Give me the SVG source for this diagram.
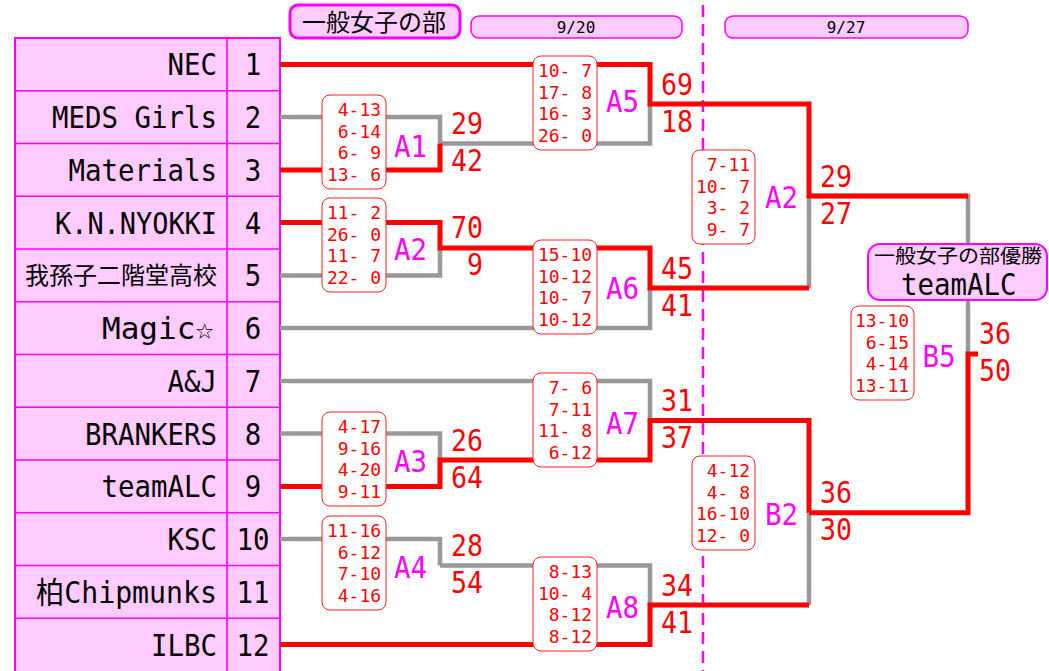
<svg xmlns="http://www.w3.org/2000/svg" width="1049" height="671" viewBox="0 0 1049 671">
<style>
.cell{fill:#FFCCFF;stroke:#FF00FF;stroke-width:2}
.rl{stroke:#FF00FF;stroke-width:1.6;fill:none}
.team{font-family:"DejaVu Sans Mono","Noto Sans CJK JP",monospace;font-size:30px;fill:#000}
.jp{font-family:"Noto Sans CJK JP",sans-serif;fill:#000}
.num{font-family:"DejaVu Sans Mono",monospace;font-size:30px;fill:#000}
.sc{font-family:"DejaVu Sans Mono",monospace;font-size:30px;fill:#FF0000}
.lb{font-family:"DejaVu Sans Mono",monospace;font-size:31px;fill:#FF00FF}
.bx{fill:#fff;stroke:#FF2020;stroke-width:1}
.gm{font-family:"DejaVu Sans Mono",monospace;font-size:18px;fill:#FF0000;white-space:pre}
.red{fill:none;stroke:#FF0000;stroke-width:5;stroke-linejoin:miter}
.gray{fill:none;stroke:#999999;stroke-width:4.5;stroke-linejoin:miter}
.hdr{fill:#FFCCFF;stroke:#FF00FF}
.date{font-family:"DejaVu Sans Mono",monospace;font-size:16px;fill:#000}
</style>

<!-- headers -->
<g id="title">
<rect class="hdr" x="290" y="5" width="170" height="33" rx="8" stroke-width="3"/>
<text class="jp" x="302" y="31" font-size="24">一般女子の部</text>
</g>
<g id="date1">
<rect class="hdr" x="471" y="16" width="211" height="22" rx="8" stroke-width="1.5"/>
<text class="date" x="576" y="33" text-anchor="middle">9/20</text>
</g>
<g id="date2">
<rect class="hdr" x="725" y="16" width="243" height="22" rx="8" stroke-width="1.5"/>
<text class="date" x="846" y="33" text-anchor="middle">9/27</text>
</g>
<line x1="703" y1="5" x2="703" y2="671" stroke="#FF00FF" stroke-width="2.5" stroke-dasharray="12 7"/>

<!-- table -->
<g id="table">
<rect class="cell" x="15" y="38" width="265" height="645"/>
<path class="rl" d="M227,38V683 M15,90.75H280 M15,143.5H280 M15,196.25H280 M15,249H280 M15,301.75H280 M15,354.5H280 M15,407.25H280 M15,460H280 M15,512.75H280 M15,565.5H280 M15,618.25H280"/>
</g>
<g id="team1"><text class="team" x="167.5" y="75.4" textLength="49.5" lengthAdjust="spacingAndGlyphs">NEC</text><text class="num" x="244.75" y="75.4" textLength="16.5" lengthAdjust="spacingAndGlyphs">1</text></g>
<g id="team2"><text class="team" x="52" y="128" textLength="165" lengthAdjust="spacingAndGlyphs">MEDS Girls</text><text class="num" x="244.75" y="128" textLength="16.5" lengthAdjust="spacingAndGlyphs">2</text></g>
<g id="team3"><text class="team" x="68.5" y="181" textLength="148.5" lengthAdjust="spacingAndGlyphs">Materials</text><text class="num" x="244.75" y="181" textLength="16.5" lengthAdjust="spacingAndGlyphs">3</text></g>
<g id="team4"><text class="team" x="55" y="233.6" textLength="162" lengthAdjust="spacingAndGlyphs">K.N.NYOKKI</text><text class="num" x="244.75" y="233.6" textLength="16.5" lengthAdjust="spacingAndGlyphs">4</text></g>
<g id="team5"><text class="jp" x="25" y="284" font-size="24" textLength="192" lengthAdjust="spacingAndGlyphs">我孫子二階堂高校</text><text class="num" x="244.75" y="286.4" textLength="16.5" lengthAdjust="spacingAndGlyphs">5</text></g>
<g id="team6"><text class="team" x="102" y="339" textLength="112" lengthAdjust="spacingAndGlyphs">Magic☆</text><text class="num" x="244.75" y="339" textLength="16.5" lengthAdjust="spacingAndGlyphs">6</text></g>
<g id="team7"><text class="team" x="167.5" y="392" textLength="49.5" lengthAdjust="spacingAndGlyphs">A&amp;J</text><text class="num" x="244.75" y="392" textLength="16.5" lengthAdjust="spacingAndGlyphs">7</text></g>
<g id="team8"><text class="team" x="85" y="444.6" textLength="132" lengthAdjust="spacingAndGlyphs">BRANKERS</text><text class="num" x="244.75" y="444.6" textLength="16.5" lengthAdjust="spacingAndGlyphs">8</text></g>
<g id="team9"><text class="team" x="101.5" y="497.4" textLength="115.5" lengthAdjust="spacingAndGlyphs">teamALC</text><text class="num" x="244.75" y="497.4" textLength="16.5" lengthAdjust="spacingAndGlyphs">9</text></g>
<g id="team10"><text class="team" x="167.5" y="550" textLength="49.5" lengthAdjust="spacingAndGlyphs">KSC</text><text class="num" x="236.5" y="550" textLength="33" lengthAdjust="spacingAndGlyphs">10</text></g>
<g id="team11"><text class="team" x="36" y="603" textLength="181" lengthAdjust="spacingAndGlyphs">柏Chipmunks</text><text class="num" x="236.5" y="603" textLength="33" lengthAdjust="spacingAndGlyphs">11</text></g>
<g id="team12"><text class="team" x="151" y="655.6" textLength="66" lengthAdjust="spacingAndGlyphs">ILBC</text><text class="num" x="236.5" y="655.6" textLength="33" lengthAdjust="spacingAndGlyphs">12</text></g>

<!-- connectors -->
<g id="connectors">
<path class="gray" d="M280,117H440V143.5 M440,143.5H650V104 M280,275.4H440V248 M280,328H650V288 M280,433.6H440V460 M280,381H650V420.5 M280,539H440V565.5 M440,565.5H650V605 M809,196V288 M809,512.8V605 M809,196H968V354"/>
<path class="red" d="M280,170H440V143.5 M280,64.4H650V104H809 M280,222.6H440V248H650V288H809 M650,104H809V196H968 M280,486.4H440V460H650V420.5H809V512.8 M280,644.6H650V605H809 M809,512.8H968V354H978"/>
</g>

<!-- matches -->
<g id="A1">
<rect class="bx" x="322" y="95" width="64" height="94" rx="8"/>
<text class="gm" x="327" y="116" textLength="54" lengthAdjust="spacingAndGlyphs"> 4-13</text>
<text class="gm" x="327" y="137.5" textLength="54" lengthAdjust="spacingAndGlyphs"> 6-14</text>
<text class="gm" x="327" y="159" textLength="54" lengthAdjust="spacingAndGlyphs"> 6- 9</text>
<text class="gm" x="327" y="180.5" textLength="54" lengthAdjust="spacingAndGlyphs">13- 6</text>
<text class="lb" x="394" y="157" textLength="33" lengthAdjust="spacingAndGlyphs">A1</text>
<text class="sc" x="451" y="133.5" textLength="32" lengthAdjust="spacingAndGlyphs">29</text>
<text class="sc" x="451" y="170.5" textLength="32" lengthAdjust="spacingAndGlyphs">42</text>
</g>
<g id="A2">
<rect class="bx" x="322" y="198" width="64" height="94" rx="8"/>
<text class="gm" x="327" y="219" textLength="54" lengthAdjust="spacingAndGlyphs">11- 2</text>
<text class="gm" x="327" y="240.5" textLength="54" lengthAdjust="spacingAndGlyphs">26- 0</text>
<text class="gm" x="327" y="262" textLength="54" lengthAdjust="spacingAndGlyphs">11- 7</text>
<text class="gm" x="327" y="283.5" textLength="54" lengthAdjust="spacingAndGlyphs">22- 0</text>
<text class="lb" x="394" y="260" textLength="33" lengthAdjust="spacingAndGlyphs">A2</text>
<text class="sc" x="451" y="238" textLength="32" lengthAdjust="spacingAndGlyphs">70</text>
<text class="sc" x="467" y="275" textLength="16" lengthAdjust="spacingAndGlyphs">9</text>
</g>
<g id="A3">
<rect class="bx" x="322" y="412" width="64" height="94" rx="8"/>
<text class="gm" x="327" y="433" textLength="54" lengthAdjust="spacingAndGlyphs"> 4-17</text>
<text class="gm" x="327" y="454.5" textLength="54" lengthAdjust="spacingAndGlyphs"> 9-16</text>
<text class="gm" x="327" y="476" textLength="54" lengthAdjust="spacingAndGlyphs"> 4-20</text>
<text class="gm" x="327" y="497.5" textLength="54" lengthAdjust="spacingAndGlyphs"> 9-11</text>
<text class="lb" x="394" y="472" textLength="33" lengthAdjust="spacingAndGlyphs">A3</text>
<text class="sc" x="451" y="450.5" textLength="32" lengthAdjust="spacingAndGlyphs">26</text>
<text class="sc" x="451" y="487.5" textLength="32" lengthAdjust="spacingAndGlyphs">64</text>
</g>
<g id="A4">
<rect class="bx" x="322" y="516" width="64" height="94" rx="8"/>
<text class="gm" x="327" y="537" textLength="54" lengthAdjust="spacingAndGlyphs">11-16</text>
<text class="gm" x="327" y="558.5" textLength="54" lengthAdjust="spacingAndGlyphs"> 6-12</text>
<text class="gm" x="327" y="580" textLength="54" lengthAdjust="spacingAndGlyphs"> 7-10</text>
<text class="gm" x="327" y="601.5" textLength="54" lengthAdjust="spacingAndGlyphs"> 4-16</text>
<text class="lb" x="394" y="578" textLength="33" lengthAdjust="spacingAndGlyphs">A4</text>
<text class="sc" x="451" y="556" textLength="32" lengthAdjust="spacingAndGlyphs">28</text>
<text class="sc" x="451" y="593" textLength="32" lengthAdjust="spacingAndGlyphs">54</text>
</g>
<g id="A5">
<rect class="bx" x="533" y="56" width="64" height="94" rx="8"/>
<text class="gm" x="538" y="77" textLength="54" lengthAdjust="spacingAndGlyphs">10- 7</text>
<text class="gm" x="538" y="98.5" textLength="54" lengthAdjust="spacingAndGlyphs">17- 8</text>
<text class="gm" x="538" y="120" textLength="54" lengthAdjust="spacingAndGlyphs">16- 3</text>
<text class="gm" x="538" y="141.5" textLength="54" lengthAdjust="spacingAndGlyphs">26- 0</text>
<text class="lb" x="606" y="112" textLength="33" lengthAdjust="spacingAndGlyphs">A5</text>
<text class="sc" x="661" y="95" textLength="32" lengthAdjust="spacingAndGlyphs">69</text>
<text class="sc" x="661" y="132" textLength="32" lengthAdjust="spacingAndGlyphs">18</text>
</g>
<g id="A6">
<rect class="bx" x="533" y="240" width="64" height="94" rx="8"/>
<text class="gm" x="538" y="261" textLength="54" lengthAdjust="spacingAndGlyphs">15-10</text>
<text class="gm" x="538" y="282.5" textLength="54" lengthAdjust="spacingAndGlyphs">10-12</text>
<text class="gm" x="538" y="304" textLength="54" lengthAdjust="spacingAndGlyphs">10- 7</text>
<text class="gm" x="538" y="325.5" textLength="54" lengthAdjust="spacingAndGlyphs">10-12</text>
<text class="lb" x="606" y="299" textLength="33" lengthAdjust="spacingAndGlyphs">A6</text>
<text class="sc" x="661" y="278.5" textLength="32" lengthAdjust="spacingAndGlyphs">45</text>
<text class="sc" x="661" y="315.5" textLength="32" lengthAdjust="spacingAndGlyphs">41</text>
</g>
<g id="A7">
<rect class="bx" x="533" y="373" width="64" height="94" rx="8"/>
<text class="gm" x="538" y="394" textLength="54" lengthAdjust="spacingAndGlyphs"> 7- 6</text>
<text class="gm" x="538" y="415.5" textLength="54" lengthAdjust="spacingAndGlyphs"> 7-11</text>
<text class="gm" x="538" y="437" textLength="54" lengthAdjust="spacingAndGlyphs">11- 8</text>
<text class="gm" x="538" y="458.5" textLength="54" lengthAdjust="spacingAndGlyphs"> 6-12</text>
<text class="lb" x="606" y="434" textLength="33" lengthAdjust="spacingAndGlyphs">A7</text>
<text class="sc" x="661" y="411" textLength="32" lengthAdjust="spacingAndGlyphs">31</text>
<text class="sc" x="661" y="448" textLength="32" lengthAdjust="spacingAndGlyphs">37</text>
</g>
<g id="A8">
<rect class="bx" x="533" y="557" width="64" height="94" rx="8"/>
<text class="gm" x="538" y="578" textLength="54" lengthAdjust="spacingAndGlyphs"> 8-13</text>
<text class="gm" x="538" y="599.5" textLength="54" lengthAdjust="spacingAndGlyphs">10- 4</text>
<text class="gm" x="538" y="621" textLength="54" lengthAdjust="spacingAndGlyphs"> 8-12</text>
<text class="gm" x="538" y="642.5" textLength="54" lengthAdjust="spacingAndGlyphs"> 8-12</text>
<text class="lb" x="606" y="618" textLength="33" lengthAdjust="spacingAndGlyphs">A8</text>
<text class="sc" x="661" y="595.5" textLength="32" lengthAdjust="spacingAndGlyphs">34</text>
<text class="sc" x="661" y="632.5" textLength="32" lengthAdjust="spacingAndGlyphs">41</text>
</g>
<g id="A2b">
<rect class="bx" x="692" y="150" width="63" height="94" rx="8"/>
<text class="gm" x="696" y="171" textLength="54" lengthAdjust="spacingAndGlyphs"> 7-11</text>
<text class="gm" x="696" y="192.5" textLength="54" lengthAdjust="spacingAndGlyphs">10- 7</text>
<text class="gm" x="696" y="214" textLength="54" lengthAdjust="spacingAndGlyphs"> 3- 2</text>
<text class="gm" x="696" y="235.5" textLength="54" lengthAdjust="spacingAndGlyphs"> 9- 7</text>
<text class="lb" x="765" y="208" textLength="33" lengthAdjust="spacingAndGlyphs">A2</text>
<text class="sc" x="820" y="187" textLength="32" lengthAdjust="spacingAndGlyphs">29</text>
<text class="sc" x="820" y="224" textLength="32" lengthAdjust="spacingAndGlyphs">27</text>
</g>
<g id="B2">
<rect class="bx" x="692" y="456" width="63" height="94" rx="8"/>
<text class="gm" x="696" y="477" textLength="54" lengthAdjust="spacingAndGlyphs"> 4-12</text>
<text class="gm" x="696" y="498.5" textLength="54" lengthAdjust="spacingAndGlyphs"> 4- 8</text>
<text class="gm" x="696" y="520" textLength="54" lengthAdjust="spacingAndGlyphs">16-10</text>
<text class="gm" x="696" y="541.5" textLength="54" lengthAdjust="spacingAndGlyphs">12- 0</text>
<text class="lb" x="765" y="525" textLength="33" lengthAdjust="spacingAndGlyphs">B2</text>
<text class="sc" x="820" y="503" textLength="32" lengthAdjust="spacingAndGlyphs">36</text>
<text class="sc" x="820" y="540" textLength="32" lengthAdjust="spacingAndGlyphs">30</text>
</g>
<g id="B5">
<rect class="bx" x="851" y="306" width="63" height="94" rx="8"/>
<text class="gm" x="855" y="327" textLength="54" lengthAdjust="spacingAndGlyphs">13-10</text>
<text class="gm" x="855" y="348.5" textLength="54" lengthAdjust="spacingAndGlyphs"> 6-15</text>
<text class="gm" x="855" y="370" textLength="54" lengthAdjust="spacingAndGlyphs"> 4-14</text>
<text class="gm" x="855" y="391.5" textLength="54" lengthAdjust="spacingAndGlyphs">13-11</text>
<text class="lb" x="922.5" y="367" textLength="33" lengthAdjust="spacingAndGlyphs">B5</text>
<text class="sc" x="979" y="344" textLength="32" lengthAdjust="spacingAndGlyphs">36</text>
<text class="sc" x="979" y="381" textLength="32" lengthAdjust="spacingAndGlyphs">50</text>
</g>
<g id="champion">
<rect class="hdr" x="868" y="244" width="179" height="56" rx="12" stroke-width="2"/>
<text class="jp" x="874" y="263" font-size="19" textLength="168" lengthAdjust="spacingAndGlyphs">一般女子の部優勝</text>
<text class="team" x="901" y="295" font-size="27" textLength="115.5" lengthAdjust="spacingAndGlyphs">teamALC</text>
</g>
</svg>
